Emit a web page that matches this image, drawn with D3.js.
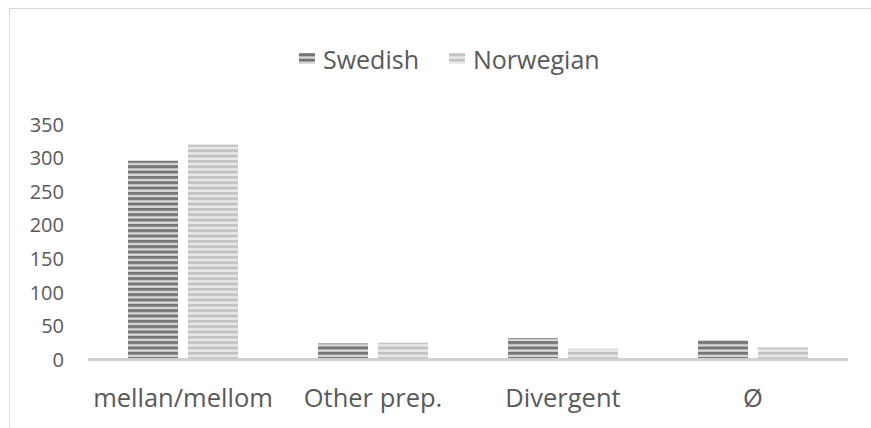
<!DOCTYPE html>
<html>
<head>
<meta charset="utf-8">
<script src="https://cdn.jsdelivr.net/npm/d3@7"></script>
<style>
  body { margin: 0; background: #fff; }
  text { font-family: "Open Sans", sans-serif; fill: #595959; }
</style>
</head>
<body>
<svg id="chart" width="871" height="428"></svg>
<script>
// data
const categories = ['mellan/mellom', 'Other prep.', 'Divergent', 'Ø'];
const seriesNames = ['Swedish', 'Norwegian'];
const swedish = [296, 24, 32, 29];
const norwegian = [320, 25, 16, 18];
const yTicks = [0, 50, 100, 150, 200, 250, 300, 350];

const values = {Swedish: swedish, Norwegian: norwegian};
const stripes = {
  Swedish: {dark: '#767676', light: '#dadada'},
  Norwegian: {dark: '#c3c3c3', light: '#ebebeb'}
};

const svg = d3.select('#chart');

// chart area border (runs off right and bottom)
svg.append('rect')
  .attr('x', 9.5).attr('y', 8.5)
  .attr('width', 900).attr('height', 500)
  .attr('fill', 'none')
  .attr('stroke', '#d9d9d9');

// striped fills
const defs = svg.append('defs');
seriesNames.forEach(s => {
  const p = defs.append('pattern')
    .attr('id', 'pat-' + s)
    .attr('patternUnits', 'userSpaceOnUse')
    .attr('width', 8).attr('height', 5.33);
  p.append('rect').attr('width', 8).attr('height', 5.33).attr('fill', stripes[s].light);
  p.append('rect').attr('y', 0).attr('width', 8).attr('height', 3).attr('fill', stripes[s].dark);
});

const x = d3.scaleBand().domain(categories).range([88, 848]);
const xSub = d3.scaleBand().domain(seriesNames).range([40, 150]).paddingInner(1 / 6);
const y = d3.scaleLinear().domain([0, 350]).range([359.5, 124.5]);

// y tick labels (no gridlines)
svg.append('g')
  .selectAll('text')
  .data(yTicks)
  .join('text')
  .attr('x', 64)
  .attr('y', d => y(d))
  .attr('dy', '0.36em')
  .attr('text-anchor', 'end')
  .attr('font-size', 20)
  .text(d => d);

// bars
const groups = svg.append('g')
  .selectAll('g')
  .data(categories)
  .join('g')
  .attr('transform', d => `translate(${x(d)},0)`);

groups.selectAll('rect')
  .data((d, i) => seriesNames.map(s => ({s, v: values[s][i]})))
  .join('rect')
  .attr('x', d => xSub(d.s))
  .attr('width', xSub.bandwidth())
  .attr('y', d => y(d.v))
  .attr('height', d => y(0) - y(d.v))
  .attr('fill', d => `url(#pat-${d.s})`);

// x axis line
svg.append('line')
  .attr('x1', 88).attr('x2', 848)
  .attr('y1', y(0)).attr('y2', y(0))
  .attr('stroke', '#d0d0d0')
  .attr('stroke-width', 3);

// category labels
svg.append('g')
  .selectAll('text')
  .data(categories)
  .join('text')
  .attr('x', d => x(d) + x.bandwidth() / 2)
  .attr('y', 407)
  .attr('text-anchor', 'middle')
  .attr('font-size', 25.5)
  .text(d => d);

// legend
const legendX = {Swedish: 299, Norwegian: 449};
const legend = svg.append('g')
  .selectAll('g')
  .data(seriesNames)
  .join('g')
  .attr('transform', d => `translate(${legendX[d]},0)`);

legend.append('rect')
  .attr('x', 0).attr('y', 53)
  .attr('width', 16).attr('height', 11)
  .attr('fill', d => `url(#pat-${d})`);

legend.append('text')
  .attr('x', 24).attr('y', 69)
  .attr('font-size', 25)
  .text(d => d);
</script>
</body>
</html>
